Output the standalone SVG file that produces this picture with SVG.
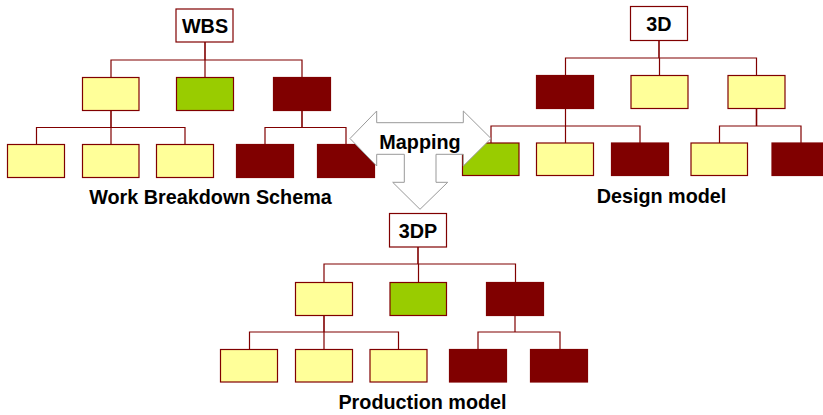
<svg xmlns="http://www.w3.org/2000/svg" width="823" height="415" viewBox="0 0 823 415">
<style>
.n{stroke:#800000;stroke-width:1.2}
.w{fill:#fff}.y{fill:#ff9}.g{fill:#9c0}.d{fill:#800000}
.c{fill:none;stroke:#800000;stroke-width:1.2}
.s{fill:none;stroke:#800000;stroke-width:1.6}
text{font-family:"Liberation Sans",Arial,sans-serif;font-weight:bold;fill:#000;text-anchor:middle}
.t{font-size:19.800px}
</style>
<rect width="823" height="415" fill="#fff"/>
<g id="connectors">
<path class="c" d="M111 77V60H302V77M205 60V77M36.500 144V127.500H185V144M111 127.500V144M265 144V127.500H346V144"/>
<path class="s" d="M205 42V60M111 110V127.500M302 110V127.500"/>
<path class="c" d="M565.500 75V58H756.500V75M659.500 58V75M491 143V126H640V143M565.500 109V143M719.500 143V126H801V143"/>
<path class="s" d="M659 40V58M756.500 109V126"/>
<path class="c" d="M324 282V264H515.500V282M418.500 264V282M249.500 349V332H398.500V349M324 332V349M515 315V332M478 349V332H560V349"/>
<path class="s" d="M418 247V264M324 315V332"/>
</g>
<g id="wbs"><rect class="n w" x="176" y="9" width="57" height="33"/><text class="t" x="205" y="33">WBS</text></g>
<g id="wbs-1"><rect class="n y" x="82.500" y="77.500" width="56.500" height="33"/></g>
<g id="wbs-2"><rect class="n g" x="176.500" y="77.500" width="57" height="33"/></g>
<g id="wbs-3"><rect class="n d" x="273.500" y="77.500" width="57" height="33"/></g>
<g id="wbs-1-1"><rect class="n y" x="7.500" y="144.500" width="57" height="33"/></g>
<g id="wbs-1-2"><rect class="n y" x="82.500" y="144.500" width="56.500" height="33"/></g>
<g id="wbs-1-3"><rect class="n y" x="156.500" y="144.500" width="57" height="33"/></g>
<g id="wbs-3-1"><rect class="n d" x="236.500" y="144.500" width="57" height="33"/></g>
<g id="wbs-3-2"><rect class="n d" x="317.500" y="144.500" width="57" height="33"/></g>
<g id="d3"><rect class="n w" x="630.500" y="6.500" width="57" height="34"/><text class="t" x="659" y="31">3D</text></g>
<g id="d3-1"><rect class="n d" x="536.500" y="75.500" width="57" height="33"/></g>
<g id="d3-2"><rect class="n y" x="631" y="75.500" width="57" height="33"/></g>
<g id="d3-3"><rect class="n y" x="728" y="75.500" width="57" height="33"/></g>
<g id="d3-1-1"><rect class="n g" x="462.500" y="143" width="56.500" height="32.500"/></g>
<g id="d3-1-2"><rect class="n y" x="536.500" y="143" width="57" height="32.500"/></g>
<g id="d3-1-3"><rect class="n d" x="611.500" y="143" width="57" height="32.500"/></g>
<g id="d3-3-1"><rect class="n y" x="691" y="143" width="56.500" height="32.500"/></g>
<g id="d3-3-2"><rect class="n d" x="772" y="143" width="57" height="32.500"/></g>
<g id="p3"><rect class="n w" x="389.500" y="213.500" width="57" height="33.500"/><text class="t" x="418" y="238">3DP</text></g>
<g id="p3-1"><rect class="n y" x="295.500" y="282.500" width="57" height="33"/></g>
<g id="p3-2"><rect class="n g" x="390" y="282.500" width="56.500" height="33"/></g>
<g id="p3-3"><rect class="n d" x="486.500" y="282.500" width="57" height="33"/></g>
<g id="p3-1-1"><rect class="n y" x="220.500" y="349.500" width="57" height="32.500"/></g>
<g id="p3-1-2"><rect class="n y" x="295.500" y="349.500" width="57" height="32.500"/></g>
<g id="p3-1-3"><rect class="n y" x="370" y="349.500" width="57" height="32.500"/></g>
<g id="p3-3-1"><rect class="n d" x="449.500" y="349.500" width="57" height="32.500"/></g>
<g id="p3-3-2"><rect class="n d" x="530.500" y="349.500" width="57" height="32.500"/></g>
<g id="mapping">
<polygon points="350,138.500 376.700,111 376.700,122.700 463.300,122.700 463.300,111 491,138.500 463.300,166 463.300,154.300 436,154.300 436,182.300 447.700,182.300 420,209.300 392.700,182.300 404.300,182.300 404.300,154.300 376.700,154.300 376.700,166" fill="#fff" stroke="#999" stroke-width="1"/>
<text class="t" x="420" y="149">Mapping</text>
</g>
<text class="t" x="210.500" y="204">Work Breakdown Schema</text>
<text class="t" x="661.500" y="203">Design model</text>
<text class="t" x="422.500" y="409">Production model</text>
</svg>
